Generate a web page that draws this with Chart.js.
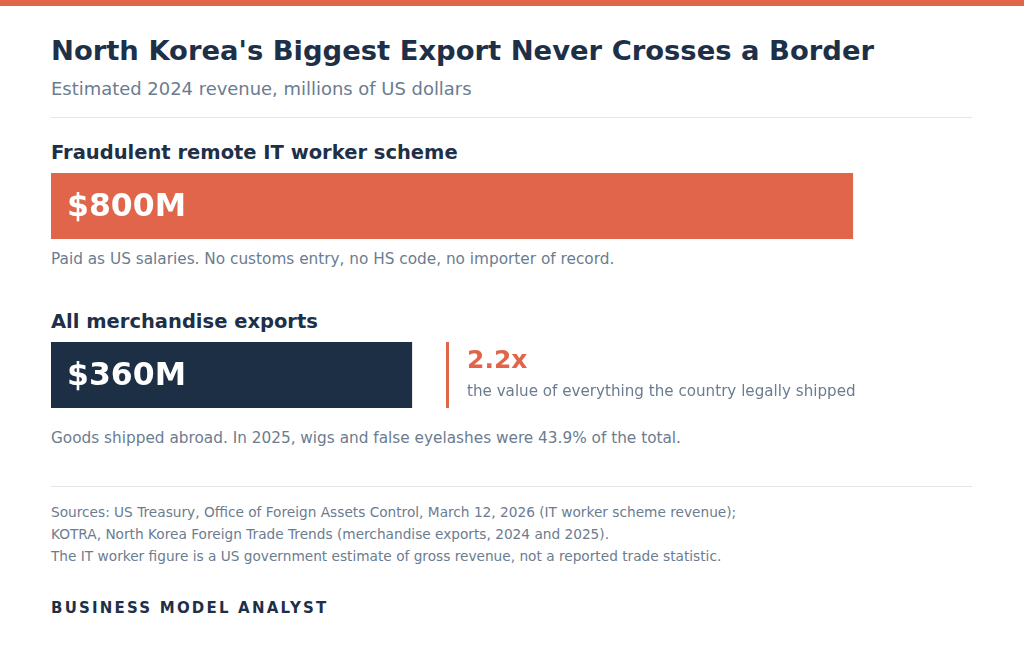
<!DOCTYPE html>
<html>
<head>
<meta charset="utf-8">
<script src="https://cdn.jsdelivr.net/npm/chart.js@4"></script>
<style>
  body { margin: 0; width: 1024px; height: 649px; background: #fff; font-family: "DejaVu Sans", sans-serif; position: relative; overflow: hidden; }
  .t { position: absolute; left: 51px; white-space: nowrap; }
  .band { position: absolute; left: 0; top: 0; width: 1024px; height: 6px; background: #E0654A; }
  .rule { position: absolute; left: 51px; width: 921px; height: 1px; background: #E2E5E9; }
  .box { position: absolute; left: 51px; width: 921px; height: 66px; }
  .val { position: absolute; left: 67px; color: #fff; font-weight: bold; font-size: 31.5px; }
</style>
</head>
<body>
<div class="band"></div>
<div class="t" style="top:35px;font-size:27.4px;font-weight:bold;color:#1E3048">North Korea's Biggest Export Never Crosses a Border</div>
<div class="t" style="top:78px;font-size:17.95px;color:#6B7C8F">Estimated 2024 revenue, millions of US dollars</div>
<div class="rule" style="top:117px"></div>

<div class="t" style="top:141px;font-size:19.5px;font-weight:bold;color:#1E3048">Fraudulent remote IT worker scheme</div>
<div class="box" style="top:173px"><canvas id="c1"></canvas></div>
<div class="val" style="top:187px">$800M</div>
<div class="t" style="top:250px;font-size:15.3px;color:#6B7C8F">Paid as US salaries. No customs entry, no HS code, no importer of record.</div>

<div class="t" style="top:310px;font-size:19.5px;font-weight:bold;color:#1E3048">All merchandise exports</div>
<div class="box" style="top:342px"><canvas id="c2"></canvas></div>
<div class="val" style="top:356px">$360M</div>
<div style="position:absolute;left:446px;top:342px;width:3px;height:66px;background:#E0654A"></div>
<div class="t" style="left:467px;top:345px;font-size:25px;font-weight:bold;color:#E0654A">2.2x</div>
<div class="t" style="left:467px;top:382px;font-size:15.15px;color:#6B7C8F">the value of everything the country legally shipped</div>
<div class="t" style="top:429px;font-size:15.3px;color:#6B7C8F">Goods shipped abroad. In 2025, wigs and false eyelashes were 43.9% of the total.</div>

<div class="rule" style="top:486px"></div>
<div class="t" style="top:504px;font-size:13.7px;color:#6B7C8F">Sources: US Treasury, Office of Foreign Assets Control, March 12, 2026 (IT worker scheme revenue);</div>
<div class="t" style="top:526px;font-size:13.7px;color:#6B7C8F">KOTRA, North Korea Foreign Trade Trends (merchandise exports, 2024 and 2025).</div>
<div class="t" style="top:548px;font-size:13.7px;color:#6B7C8F">The IT worker figure is a US government estimate of gross revenue, not a reported trade statistic.</div>
<div class="t" style="top:599px;font-size:15px;font-weight:bold;letter-spacing:2.2px;color:#1E3048">BUSINESS MODEL ANALYST</div>

<script>
const categories = ["Fraudulent remote IT worker scheme", "All merchandise exports"];
const values = [800, 360];
const colors = ["#E0654A", "#1C2F45"];
const scaleMax = 919;

function bar(id, i) {
  new Chart(document.getElementById(id), {
    type: "bar",
    data: {
      labels: [categories[i]],
      datasets: [{ data: [values[i]], backgroundColor: colors[i], barPercentage: 1, categoryPercentage: 1 }]
    },
    options: {
      indexAxis: "y",
      responsive: true,
      maintainAspectRatio: false,
      animation: false,
      layout: { padding: 0 },
      plugins: { legend: { display: false }, tooltip: { enabled: false } },
      scales: {
        x: { display: false, min: 0, max: scaleMax },
        y: { display: false }
      }
    }
  });
}
bar("c1", 0);
bar("c2", 1);
</script>
</body>
</html>
